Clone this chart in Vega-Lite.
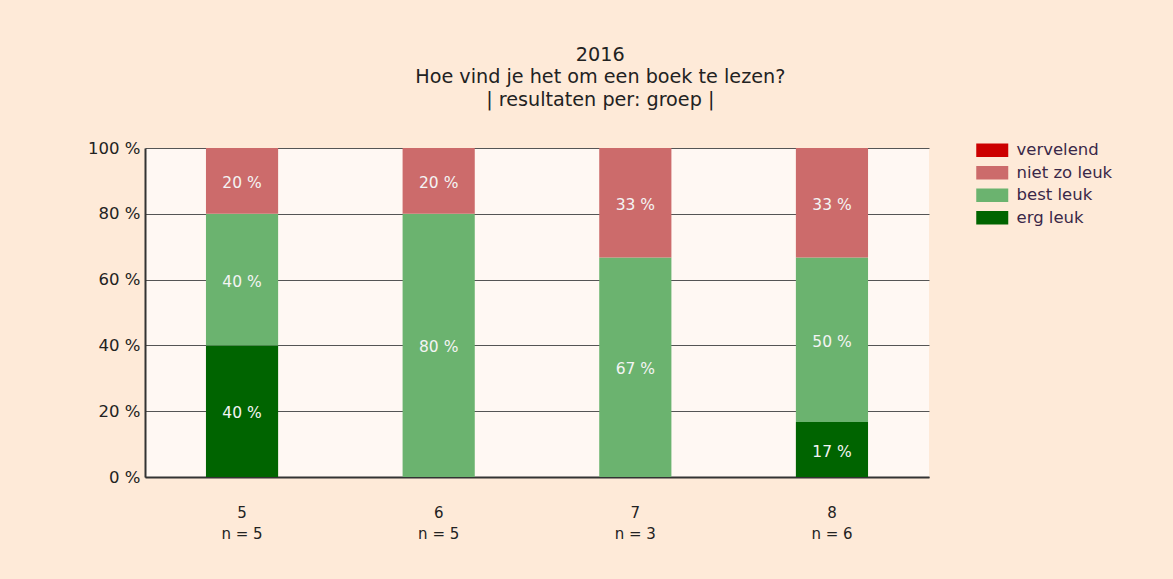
{
  "$schema": "https://vega.github.io/schema/vega-lite/v6.json",
  "width": 784,
  "height": 329,
  "autosize": "none",
  "padding": {"left": 145, "top": 148, "right": 244, "bottom": 102},
  "background": "#FEEAD8",
  "config": {
    "font": "DejaVu Sans",
    "view": {"fill": "#FFF8F3", "stroke": null}
  },
  "title": {
    "text": ["2016", "Hoe vind je het om een boek te lezen?", "| resultaten per: groep |"],
    "font": "DejaVu Sans",
    "fontSize": 19.2,
    "fontWeight": "normal",
    "lineHeight": 22.5,
    "color": "#222222",
    "anchor": "middle",
    "frame": "bounds",
    "offset": 30
  },
  "data": {
    "values": [
      {"groep": "5|n = 5", "oordeel": "erg leuk", "pct": 40},
      {"groep": "5|n = 5", "oordeel": "best leuk", "pct": 40},
      {"groep": "5|n = 5", "oordeel": "niet zo leuk", "pct": 20},
      {"groep": "6|n = 5", "oordeel": "best leuk", "pct": 80},
      {"groep": "6|n = 5", "oordeel": "niet zo leuk", "pct": 20},
      {"groep": "7|n = 3", "oordeel": "best leuk", "pct": 66.7},
      {"groep": "7|n = 3", "oordeel": "niet zo leuk", "pct": 33.3},
      {"groep": "8|n = 6", "oordeel": "erg leuk", "pct": 16.7},
      {"groep": "8|n = 6", "oordeel": "best leuk", "pct": 50},
      {"groep": "8|n = 6", "oordeel": "niet zo leuk", "pct": 33.3}
    ]
  },
  "transform": [
    {"calculate": "indexof(['erg leuk','best leuk','niet zo leuk','vervelend'], datum.oordeel)", "as": "volgorde"},
    {"calculate": "format(datum.pct, '.0f') + ' %'", "as": "label"}
  ],
  "encoding": {
    "x": {
      "field": "groep",
      "type": "nominal",
      "scale": {"paddingInner": 0.633, "paddingOuter": 0.31},
      "axis": {
        "title": null,
        "labelAngle": 0,
        "labelExpr": "split(datum.label, '|')",
        "labelFontSize": 15,
        "labelLineHeight": 21,
        "labelPadding": 28,
        "labelColor": "#222222",
        "ticks": false,
        "domainColor": "#333333",
        "domainWidth": 2
      }
    }
  },
  "layer": [
    {
      "mark": {"type": "bar"},
      "encoding": {
        "y": {
          "field": "pct",
          "type": "quantitative",
          "stack": "zero",
          "scale": {"domain": [0, 100]},
          "axis": {
            "title": null,
            "values": [0, 20, 40, 60, 80, 100],
            "labelExpr": "datum.value + ' %'",
            "labelFontSize": 16.5,
            "labelColor": "#222222",
            "labelPadding": 5,
            "ticks": false,
            "grid": true,
            "gridColor": "#555555",
            "gridWidth": 1,
            "domainColor": "#333333",
            "domainWidth": 2
          }
        },
        "color": {
          "field": "oordeel",
          "type": "nominal",
          "scale": {
            "domain": ["vervelend", "niet zo leuk", "best leuk", "erg leuk"],
            "range": ["#CC0000", "#CC6B6B", "#6BB36F", "#006400"]
          },
          "legend": {
            "title": null,
            "orient": "none",
            "legendX": 839,
            "legendY": -6,
            "labelFontSize": 16.5,
            "labelColor": "#3a2848",
            "symbolType": "M-2,-0.84H2V0.84H-2Z",
            "symbolSize": 256,
            "symbolStrokeWidth": 0,
            "symbolOpacity": 1,
            "rowPadding": 5.5,
            "labelOffset": 16
          }
        },
        "order": {"field": "volgorde", "type": "quantitative"}
      }
    },
    {
      "mark": {"type": "text", "color": "#F4F4F4", "fontSize": 15.5, "baseline": "middle", "dy": 2},
      "encoding": {
        "y": {"field": "pct", "type": "quantitative", "stack": "zero", "bandPosition": 0.5},
        "text": {"field": "label"},
        "detail": {"field": "oordeel"},
        "order": {"field": "volgorde", "type": "quantitative"}
      }
    }
  ]
}
